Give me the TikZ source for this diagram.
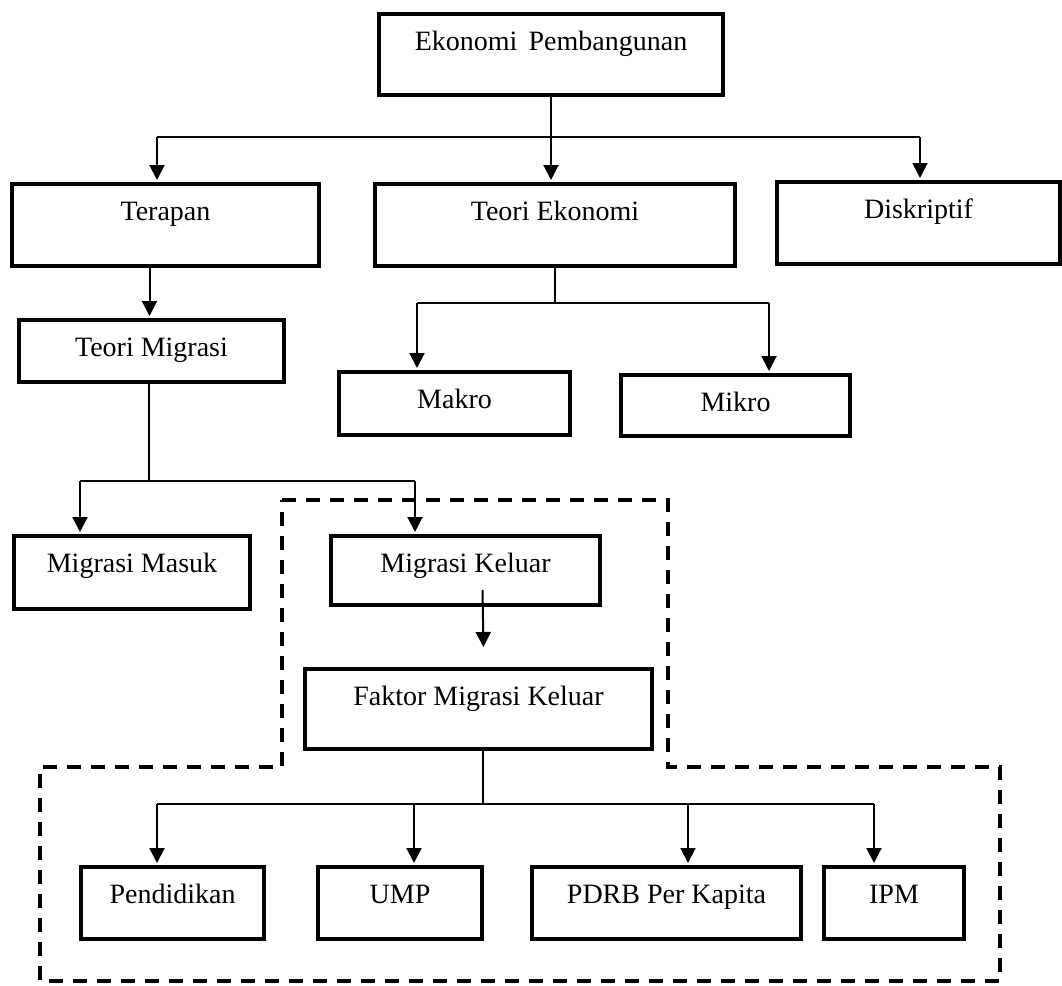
\documentclass[tikz,border=0pt]{standalone}
\usepackage{fontspec}
\setmainfont{Liberation Serif}
\usetikzlibrary{arrows.meta}

\tikzset{
  box/.style={draw, line width=4pt, inner xsep=0pt, inner ysep=0pt,
    text height=36pt, text depth=#1, anchor=north west,
    font=\fontsize{28}{30}\selectfont},
  box/.default=36pt,
  link/.style={line width=2pt},
  arr/.style={link, shorten >=2pt, -{Triangle[width=15pt,length=15pt]}},
  zone/.style={line width=4pt, dash pattern=on 14pt off 10pt}
}

\begin{document}
\begin{tikzpicture}[x=1pt, y=-1pt]
                \useasboundingbox (0,0) rectangle (1062,985);
                % Boxes
                \node[box=45pt, minimum width=344pt] (ep) at (377,12) {Ekonomi\hspace{0.4em}Pembangunan};
                \node[box=46pt, minimum width=307pt] (tr) at (10,182) {Terapan};
                \node[box=46pt, minimum width=360pt] (te) at (373,182) {Teori Ekonomi};
                \node[box=46pt, minimum width=283pt] (dk) at (775,180) {Diskriptif};
                \node[box=26pt, minimum width=265pt] (tm) at (17,318) {Teori Migrasi};
                \node[box=27pt, minimum width=231pt] (ma) at (337,370) {Makro};
                \node[box=25pt, minimum width=229pt] (mi) at (619,373) {Mikro};
                \node[box=37pt, minimum width=236pt] (mm) at (12,534) {Migrasi Masuk};
                \node[box=33pt, minimum width=269pt] (mk) at (329,534) {Migrasi Keluar};
                \node[box=44pt, minimum width=347pt] (fm) at (303,667) {Faktor Migrasi Keluar};
                \node[box, minimum width=183pt] (pd) at (79,865) {Pendidikan};
                \node[box, minimum width=164pt] (ump) at (316,865) {UMP};
                \node[box, minimum width=269pt] (pdrb) at (530,865) {PDRB Per Kapita};
                \node[box, minimum width=140pt] (ipm) at (822,865) {IPM};
                % Dashed area
                \draw[zone] (282,500) -- (668,500) -- (668,767) -- (1000,767) -- (1000,981)
                    -- (40,981) -- (40,767) -- (282,767) -- cycle;
                % Ekonomi Pembangunan
                \coordinate (a1) at (157,137);
                \coordinate (a2) at (920,137);
                \draw[link] (a1) -- (a2);
                \draw[arr] (ep.south) -- (ep.south |- te.north);
                \draw[arr] (a1) -- (a1 |- tr.north);
                \draw[arr] (a2) -- (a2 |- dk.north);
                \draw[arr] ([xshift=-16pt]tr.south) -- ([xshift=-16pt]tr.south |- tm.north);
                % Teori Ekonomi
                \coordinate (b1) at (417,303);
                \coordinate (b2) at (769,303);
                \draw[link] (te.south) -- (te.south |- b1);
                \draw[link] (b1) -- (b2);
                \draw[arr] (b1) -- (b1 |- ma.north);
                \draw[arr] (b2) -- (b2 |- mi.north);
                % Teori Migrasi
                \coordinate (c1) at (80,481);
                \coordinate (c2) at (415,481);
                \draw[link] ([xshift=-3pt]tm.south) -- ([xshift=-3pt]tm.south |- c1);
                \draw[link] (c1) -- (c2);
                \draw[arr] (c1) -- (c1 |- mm.north);
                \draw[arr] (c2) -- (c2 |- mk.north);
                \draw[arr] ([xshift=17pt, yshift=17pt]mk.south) -- ([xshift=5pt, yshift=18pt]fm.north);
                % Faktor Migrasi Keluar
                \coordinate (f1) at (157,804);
                \coordinate (f4) at (874,804);
                \draw[link] ([xshift=4pt]fm.south) -- ([xshift=4pt]fm.south |- f1);
                \draw[link] (f1) -- (f4);
                \foreach \x/\t in {157/pd, 414/ump, 688/pdrb, 874/ipm}{
                    \coordinate (e\t) at (\x,804);
                    \draw[arr] (e\t) -- (e\t |- \t.north);
                }
            \end{tikzpicture}
\end{document}
